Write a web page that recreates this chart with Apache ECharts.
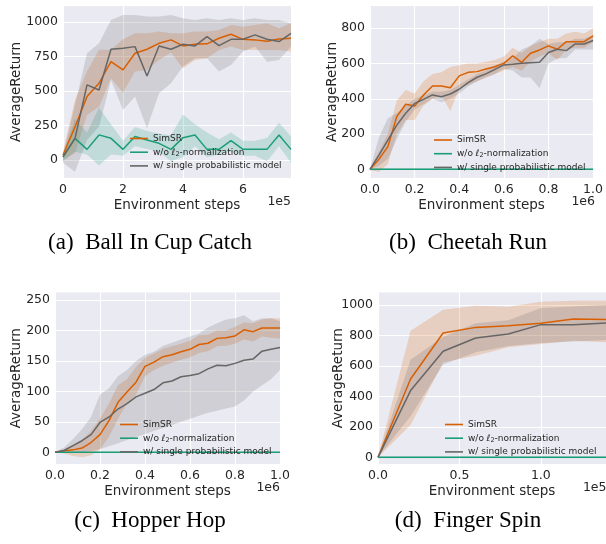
<!DOCTYPE html>
<html><head><meta charset="utf-8">
<script src="https://cdn.jsdelivr.net/npm/echarts@6/dist/echarts.min.js"></script>
<style>html,body{margin:0;padding:0;background:#fff}#c{width:606px;height:544px}</style>
</head><body><div id="c"></div>
<script>
// ---------- (a) Ball In Cup Catch ----------
const xA = [0,0.4,0.8,1.2,1.6,2.0,2.4,2.8,3.2,3.6,4.0,4.4,4.8,5.2,5.6,6.0,6.4,6.8,7.2,7.6];
const simsrA    = [36,240,460,557,714,654,775,804,847,872,828,840,843,884,913,876,872,862,879,884];
const simsrA_lo = [0,48,327,387,593,489,642,654,726,780,666,726,738,799,823,799,799,799,799,787];
const simsrA_hi = [60,436,642,800,800,877,920,920,932,920,920,932,932,944,980,968,980,992,956,992];
const woA       = [20,157,77,182,157,77,170,145,121,77,162,182,77,77,140,77,77,77,182,77];
const woA_lo    = [-10,60,40,-40,40,30,100,80,60,-10,20,100,20,40,60,30,30,-10,100,-20];
const woA_hi    = [40,300,200,380,260,140,240,210,190,180,330,260,200,150,200,140,140,160,270,170];
const singleA    = [24,157,545,508,804,811,823,610,828,804,840,828,896,830,876,876,908,876,860,920];
const singleA_lo = [-20,-85,145,242,581,363,460,230,484,557,678,738,738,642,690,787,823,714,726,823];
const singleA_hi = [40,400,775,847,1017,1053,1053,1041,1041,1053,1029,1017,1029,1017,1029,1017,1029,1017,1017,992];
const xTicksA = [0,2,4,6];
const yTicksA = [0,250,500,750,1000];

// ---------- (b) Cheetah Run ----------
const xB = [0,0.04,0.08,0.12,0.16,0.2,0.24,0.28,0.32,0.36,0.4,0.44,0.48,0.52,0.56,0.6,0.64,0.68,0.72,0.76,0.8,0.84,0.88,0.92,0.96,1.0];
const simsrB    = [0,57,129,299,369,359,422,473,473,463,530,550,554,569,582,601,643,607,658,677,700,681,724,724,724,756];
const simsrB_lo = [-5,-15,30,200,280,280,360,400,420,330,460,480,500,520,540,560,580,560,610,640,660,620,680,690,690,720];
const simsrB_hi = [5,100,200,390,450,430,500,540,550,580,590,600,600,610,620,640,690,660,700,720,740,740,770,780,770,800];
const woB       = [0,0,0,0,0,0,0,0,0,0,0,0,0,0,0,0,0,0,0,0,0,0,0,0,0,0];
const woB_lo    = [-4,-4,-4,-4,-4,-4,-4,-4,-4,-4,-4,-4,-4,-4,-4,-4,-4,-4,-4,-4,-4,-4,-4,-4,-4,-4];
const woB_hi    = [6,6,6,6,6,6,6,6,6,6,6,6,6,6,6,6,6,6,6,6,6,6,6,6,6,6];
const singleB    = [0,81,166,251,318,374,397,422,412,427,454,492,522,541,567,592,596,601,605,607,662,681,673,711,711,730];
const singleB_lo = [0,20,60,170,270,340,370,400,380,400,430,470,500,520,540,570,560,520,520,460,600,630,630,680,680,680];
const singleB_hi = [0,180,290,320,360,400,420,440,440,450,480,510,540,560,590,610,630,680,700,740,710,720,720,740,740,760];
const xTicksB = [0,0.2,0.4,0.6,0.8,1.0];
const yTicksB = [0,200,400,600,800];

// ---------- (c) Hopper Hop ----------
const xC = [0,0.04,0.08,0.12,0.16,0.2,0.24,0.28,0.32,0.36,0.4,0.44,0.48,0.52,0.56,0.6,0.64,0.68,0.72,0.76,0.8,0.84,0.88,0.92,0.96,1.0];
const simsrC    = [0,2,4,7,16,29,52,82,99,115,141,148,157,160,165,169,177,179,187,188,191,201,198,204,204,204];
const simsrC_lo = [0,-2,-6,-8,-5,5,25,55,80,95,125,135,142,147,152,156,163,166,174,175,178,185,182,190,188,187];
const simsrC_hi = [0,5,12,20,35,55,80,110,120,140,155,162,170,174,178,183,192,193,200,200,206,213,212,218,220,220];
const woC       = [0,0,0,0,0,0,0,0,0,0,0,0,0,0,0,0,0,0,0,0,0,0,0,0,0,0];
const woC_lo    = [-1,-1,-1,-1,-1,-1,-1,-1,-1,-1,-1,-1,-1,-1,-1,-1,-1,-1,-1,-1,-1,-1,-1,-1,-1,-1];
const woC_hi    = [1,1,1,1,1,1,1,1,1,1,1,1,1,1,1,1,1,1,1,1,1,1,1,1,1,1];
const singleC    = [0,3,11,19,29,49,58,71,80,91,97,103,114,117,124,126,129,137,143,142,146,151,153,166,169,172];
const singleC_lo = [0,0,0,0,2,5,10,15,20,25,30,35,40,45,50,55,60,65,68,72,75,85,100,110,120,135];
const singleC_hi = [0,8,22,38,58,95,105,125,135,150,160,165,175,180,185,190,195,205,212,218,220,225,215,220,220,215];
const xTicksC = [0,0.2,0.4,0.6,0.8,1.0];
const yTicksC = [0,50,100,150,200,250];

// ---------- (d) Finger Spin ----------
const xD = [0,0.2,0.4,0.6,0.8,1.0,1.2,1.4];
const simsrD    = [0,514,816,853,864,880,908,904];
const simsrD_lo = [0,212,624,667,722,744,766,755];
const simsrD_hi = [0,831,969,995,989,1022,1028,1028];
const woD       = [0,0,0,0,0,0,0,0];
const woD_lo    = [-6,-6,-6,-6,-6,-6,-6,-6];
const woD_hi    = [6,6,6,6,6,6,6,6];
const singleD    = [0,438,696,783,810,871,871,882];
const singleD_lo = [0,270,610,690,730,750,760,770];
const singleD_hi = [0,640,790,880,900,980,990,1000];
const xTicksD = [0,0.5,1.0];
const yTicksD = [0,200,400,600,800,1000];

const seriesNames = ['SimSR', 'w/o ℓ2-normalization', 'w/ single probabilistic model'];
const captions = ['(a)\u2002Ball In Cup Catch', '(b)\u2002Cheetah Run', '(c)\u2002Hopper Hop', '(d)\u2002Finger Spin'];
const offsets = ['1e5', '1e6', '1e6', '1e5'];

// ---------- layout ----------
const colors = ['#d95f02', '#1b9e77', '#666666'];
const bandColors = ['rgba(217,95,2,0.2)', 'rgba(27,158,119,0.2)', 'rgba(102,102,102,0.2)'];
const TXT = '#262626';
const FONT = 'DejaVu Sans';

const panels = [
  {x: xA, s: [[simsrA, simsrA_lo, simsrA_hi], [woA, woA_lo, woA_hi], [singleA, singleA_lo, singleA_hi]],
   grid: {left: 63, top: 6, width: 228, height: 172}, xMax: 7.6, xT: xTicksA, dec: 0,
   yMin: -131, yMax: 1118, yT: yTicksA, yGap: 40, leg: {left: 130, top: 133}, cap: {x: 150, y: 243}},
  {x: xB, s: [[simsrB, simsrB_lo, simsrB_hi], [woB, woB_lo, woB_hi], [singleB, singleB_lo, singleB_hi]],
   grid: {left: 370, top: 6, width: 225, height: 172}, xMax: 1.0, xT: xTicksB, dec: 1,
   yMin: -49, yMax: 926, yT: yTicksB, yGap: 30.5, leg: {left: 434, top: 134.5}, cap: {x: 468, y: 243}},
  {x: xC, s: [[simsrC, simsrC_lo, simsrC_hi], [woC, woC_lo, woC_hi], [singleC, singleC_lo, singleC_hi]],
   grid: {left: 55, top: 292.5, width: 225, height: 171.5}, xMax: 1.0, xT: xTicksC, dec: 1,
   yMin: -19.2, yMax: 262.3, yT: yTicksC, yGap: 31.5, leg: {left: 120, top: 419}, cap: {x: 150, y: 521}},
  {x: xD, s: [[simsrD, simsrD_lo, simsrD_hi], [woD, woD_lo, woD_hi], [singleD, singleD_lo, singleD_hi]],
   grid: {left: 378, top: 292.5, width: 228.5, height: 171.5}, xMax: 1.4, xT: xTicksD, dec: 1,
   yMin: -44, yMax: 1082, yT: yTicksD, yGap: 33, leg: {left: 445, top: 419}, cap: {x: 468, y: 521}}
];

const grids = [], xAxes = [], yAxes = [], series = [], legends = [], graphics = [];

function bandSeries(pi, xs, lo, hi, color) {
  const data = xs.map((v, i) => [v, lo[i], hi[i]]);
  return {
    type: 'custom', xAxisIndex: pi, yAxisIndex: pi, coordinateSystem: 'cartesian2d',
    data: data, encode: {x: 0, y: [1, 2]}, z: 1, silent: true, clip: true,
    renderItem: function (params, api) {
      if (params.dataIndex !== 0) return null;
      const top = data.map(d => api.coord([d[0], d[2]]));
      const bot = data.map(d => api.coord([d[0], d[1]])).reverse();
      return {type: 'polygon', shape: {points: top.concat(bot)}, style: {fill: color}, silent: true};
    }
  };
}

panels.forEach((p, pi) => {
  grids.push(Object.assign({show: true, backgroundColor: '#eaeaf2', borderWidth: 0, containLabel: false}, p.grid));
  xAxes.push({
    type: 'value', gridIndex: pi, min: 0, max: p.xMax,
    name: 'Environment steps', nameLocation: 'middle', nameGap: 20, nameMoveOverlap: false,
    nameTextStyle: {fontFamily: FONT, fontSize: 13.5, color: TXT},
    axisLine: {show: false},
    axisTick: {show: false, customValues: p.xT},
    axisLabel: {customValues: p.xT, fontFamily: FONT, fontSize: 12.5, color: TXT, margin: 5,
      formatter: v => Number(v).toFixed(p.dec)},
    splitLine: {show: true, lineStyle: {color: '#ffffff', width: 1.1}}
  });
  yAxes.push({
    type: 'value', gridIndex: pi, min: p.yMin, max: p.yMax,
    name: 'AverageReturn', nameLocation: 'middle', nameGap: p.yGap, nameMoveOverlap: false,
    nameTextStyle: {fontFamily: FONT, fontSize: 13.5, color: TXT},
    axisLine: {show: false},
    axisTick: {show: false, customValues: p.yT},
    axisLabel: {customValues: p.yT, fontFamily: FONT, fontSize: 12.5, color: TXT, margin: 5,
      formatter: v => String(Math.round(v))},
    splitLine: {show: true, lineStyle: {color: '#ffffff', width: 1.1}}
  });
  p.s.forEach((trip, si) => series.push(bandSeries(pi, p.x, trip[1], trip[2], bandColors[si])));
  p.s.forEach((trip, si) => {
    series.push({
      type: 'line', name: seriesNames[si], xAxisIndex: pi, yAxisIndex: pi,
      data: p.x.map((v, i) => [v, trip[0][i]]), showSymbol: false, symbol: 'none',
      color: colors[si], lineStyle: {color: colors[si], width: 1.5}, z: 3, silent: true
    });
  });
  legends.push({
    data: seriesNames, orient: 'vertical', left: p.leg.left, top: p.leg.top,
    icon: 'rect', itemWidth: 18, itemHeight: 1.6, itemGap: 2.7, padding: 0, selectedMode: false,
    textStyle: {fontFamily: FONT, fontSize: 9, color: TXT, lineHeight: 11,
      rich: {
        t: {fontFamily: FONT, fontSize: 9, color: TXT, lineHeight: 11},
        i: {fontFamily: FONT, fontSize: 9, fontStyle: 'italic', color: TXT, lineHeight: 11},
        s: {fontFamily: FONT, fontSize: 6.5, color: TXT, lineHeight: 11, verticalAlign: 'bottom', padding: [3, 0, 0, 0]}
      }},
    formatter: function (n) {
      if (n === seriesNames[1]) return '{t|w/o }{i|ℓ}{s|2}{t|-normalization}';
      return '{t|' + n + '}';
    }
  });
  const g = p.grid;
  graphics.push({type: 'text', x: g.left + g.width, y: g.top + g.height + 24, silent: true,
    style: {text: offsets[pi], align: 'right', verticalAlign: 'middle', fontFamily: FONT, fontSize: 12.5, fill: TXT}});
  graphics.push({type: 'text', x: p.cap.x, y: p.cap.y, silent: true,
    style: {text: captions[pi], align: 'center', verticalAlign: 'middle', fontFamily: 'Liberation Serif', fontSize: 23, fill: '#000'}});
});

const chart = echarts.init(document.getElementById('c'), null, {renderer: 'canvas'});
chart.setOption({
  animation: false,
  backgroundColor: '#ffffff',
  grid: grids, xAxis: xAxes, yAxis: yAxes, series: series, legend: legends,
  graphic: graphics
});
</script></body></html>
